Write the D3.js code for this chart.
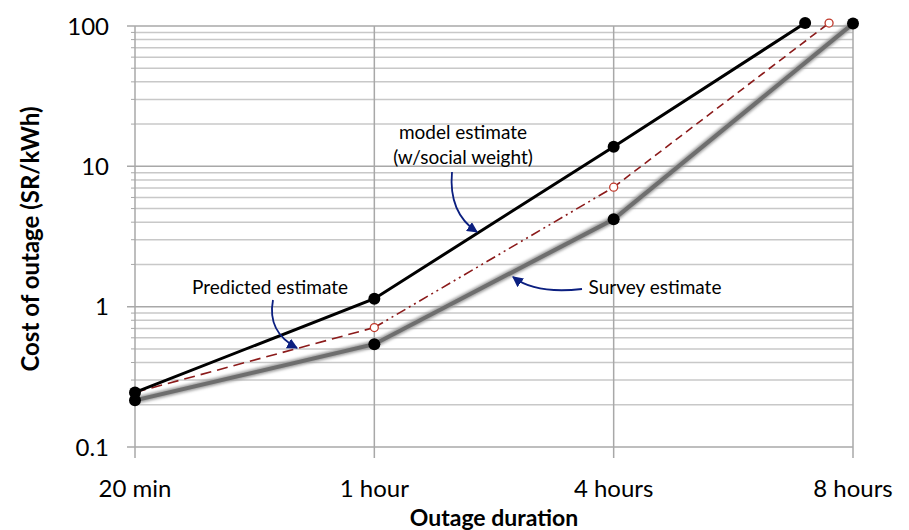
<!DOCTYPE html>
<html>
<head>
<meta charset="utf-8">
<script src="https://cdn.jsdelivr.net/npm/d3@7"></script>
<style>
  body { margin: 0; background: #fff; }
  svg text { font-family: Lato, "Open Sans", sans-serif; }
</style>
</head>
<body>
<div id="chart"></div>
<script>
const width = 909;
const height = 530;

// categories on the x axis
const durations = ["20 min", "1 hour", "4 hours", "8 hours"];
const yTicks = [0.1, 1, 10, 100];

// series (x is category position, the last points sit slightly off the 8 hours line)
const modelX = [0, 1, 2, 2.8];
const modelY = [0.245, 1.14, 13.8, 105];
const predictedX = [0, 1, 2, 2.9];
const predictedY = [0.245, 0.71, 7.1, 105];
const surveyX = [0, 1, 2, 3];
const surveyY = [0.215, 0.54, 4.2, 104];
const predictedDash = ["11,6", "10,4,2,4,2,4", "8,5"];

const svg = d3.select("#chart")
    .append("svg")
    .attr("width", width)
    .attr("height", height);

const x = d3.scaleLinear().domain([0, 3]).range([135, 853]);
const y = d3.scaleLog().domain([0.1, 100]).range([447, 26]);

const defs = svg.append("defs");
defs.append("filter")
    .attr("id", "blur")
    .attr("x", "-5%").attr("y", "-5%").attr("width", "110%").attr("height", "110%")
    .append("feGaussianBlur")
    .attr("stdDeviation", 1.6);
defs.append("marker")
    .attr("id", "arrow")
    .attr("viewBox", "0 0 10 10")
    .attr("refX", 9).attr("refY", 5)
    .attr("markerWidth", 6).attr("markerHeight", 6)
    .attr("markerUnits", "strokeWidth")
    .attr("orient", "auto")
    .append("path")
    .attr("d", "M0,0 L10,5 L0,10 z")
    .attr("fill", "#0b1f80");

// minor horizontal grid lines
var minor = [];
for (var dec = 0.1; dec < 100; dec *= 10) {
    for (var m = 2; m <= 9; m++) minor.push(dec * m);
}
svg.append("g")
    .selectAll("line")
    .data(minor)
    .enter()
    .append("line")
    .attr("x1", x(0)).attr("x2", x(3))
    .attr("y1", d => y(d)).attr("y2", d => y(d))
    .attr("stroke", "#c8c8c8")
    .attr("stroke-width", 1.5);

svg.append("g")
    .selectAll("line")
    .data(yTicks)
    .enter()
    .append("line")
    .attr("x1", x(0) - 8).attr("x2", x(3))
    .attr("y1", d => y(d)).attr("y2", d => y(d))
    .attr("stroke", "#a8a8a8")
    .attr("stroke-width", 1.5);

// vertical grid lines
svg.append("g")
    .selectAll("line")
    .data(durations)
    .enter()
    .append("line")
    .attr("x1", (d, i) => x(i)).attr("x2", (d, i) => x(i))
    .attr("y1", y(100)).attr("y2", y(0.1) + 11)
    .attr("stroke", "#a8a8a8")
    .attr("stroke-width", 1.5);

// left axis minor ticks
svg.append("g")
    .selectAll("line")
    .data(minor)
    .enter()
    .append("line")
    .attr("x1", x(0) - 4).attr("x2", x(0))
    .attr("y1", d => y(d)).attr("y2", d => y(d))
    .attr("stroke", "#a8a8a8");

// tick labels
svg.append("g")
    .selectAll("text")
    .data(yTicks)
    .enter()
    .append("text")
    .attr("x", x(0) - 26)
    .attr("y", d => y(d))
    .attr("dy", "0.36em")
    .attr("text-anchor", "end")
    .attr("font-size", 24)
    .text(d => d);

svg.append("g")
    .selectAll("text")
    .data(durations)
    .enter()
    .append("text")
    .attr("x", (d, i) => x(i))
    .attr("y", 497)
    .attr("text-anchor", "middle")
    .attr("font-size", 24)
    .text(d => d);

svg.append("text")
    .attr("x", 494).attr("y", 526)
    .attr("text-anchor", "middle")
    .attr("font-size", 23)
    .attr("font-weight", "bold")
    .text("Outage duration");

svg.append("text")
    .attr("transform", "translate(39,239) rotate(-90)")
    .attr("text-anchor", "middle")
    .attr("font-size", 24)
    .attr("font-weight", "bold")
    .text("Cost of outage (SR/kWh)");

const line = d3.line().x(d => x(d[0])).y(d => y(d[1]));
const survey = d3.zip(surveyX, surveyY);
const model = d3.zip(modelX, modelY);
const predicted = d3.zip(predictedX, predictedY);

// survey estimate: thick grey with soft edge
svg.append("path")
    .attr("d", line(survey))
    .attr("fill", "none")
    .attr("stroke", "#9a9a9a")
    .attr("stroke-width", 7)
    .attr("filter", "url(#blur)");
svg.append("path")
    .attr("d", line(survey))
    .attr("fill", "none")
    .attr("stroke", "#6e6e6e")
    .attr("stroke-width", 4);

// predicted estimate, per segment dash style
svg.append("g")
    .selectAll("path")
    .data(d3.pairs(predicted))
    .enter()
    .append("path")
    .attr("d", d => line(d))
    .attr("fill", "none")
    .attr("stroke", "#8b1a1a")
    .attr("stroke-width", 1.6)
    .attr("stroke-dasharray", (d, i) => predictedDash[i]);

svg.append("path")
    .attr("d", line(model))
    .attr("fill", "none")
    .attr("stroke", "#000")
    .attr("stroke-width", 3);

svg.append("g")
    .selectAll("circle")
    .data(survey.concat(model))
    .enter()
    .append("circle")
    .attr("cx", d => x(d[0]))
    .attr("cy", d => y(d[1]))
    .attr("r", 6)
    .attr("fill", "#000");

svg.append("g")
    .selectAll("circle")
    .data(predicted.slice(1))
    .enter()
    .append("circle")
    .attr("cx", d => x(d[0]))
    .attr("cy", d => y(d[1]))
    .attr("r", 4)
    .attr("fill", "#fff")
    .attr("stroke", "#c0392b")
    .attr("stroke-width", 1.3);

// annotations
const notes = [
    { lines: ["model estimate", "(w/social weight)"], tx: 463, ty: 139, path: "M452,172 C449,205 462,222 477,232" },
    { lines: ["Predicted estimate"], tx: 270, ty: 294, path: "M273,300 C268,326 282,340 297,348" },
    { lines: ["Survey estimate"], tx: 655, ty: 294, path: "M582,289 C556,292 530,290 513,277" }
];
notes.forEach(n => {
    var t = svg.append("text")
        .attr("x", n.tx).attr("y", n.ty)
        .attr("text-anchor", "middle")
        .attr("font-size", 19);
    n.lines.forEach((l, i) => {
        t.append("tspan").attr("x", n.tx).attr("dy", i ? 25 : 0).text(l);
    });
    svg.append("path")
        .attr("d", n.path)
        .attr("fill", "none")
        .attr("stroke", "#0b1f80")
        .attr("stroke-width", 1.8)
        .attr("marker-end", "url(#arrow)");
});
</script>
</body>
</html>
